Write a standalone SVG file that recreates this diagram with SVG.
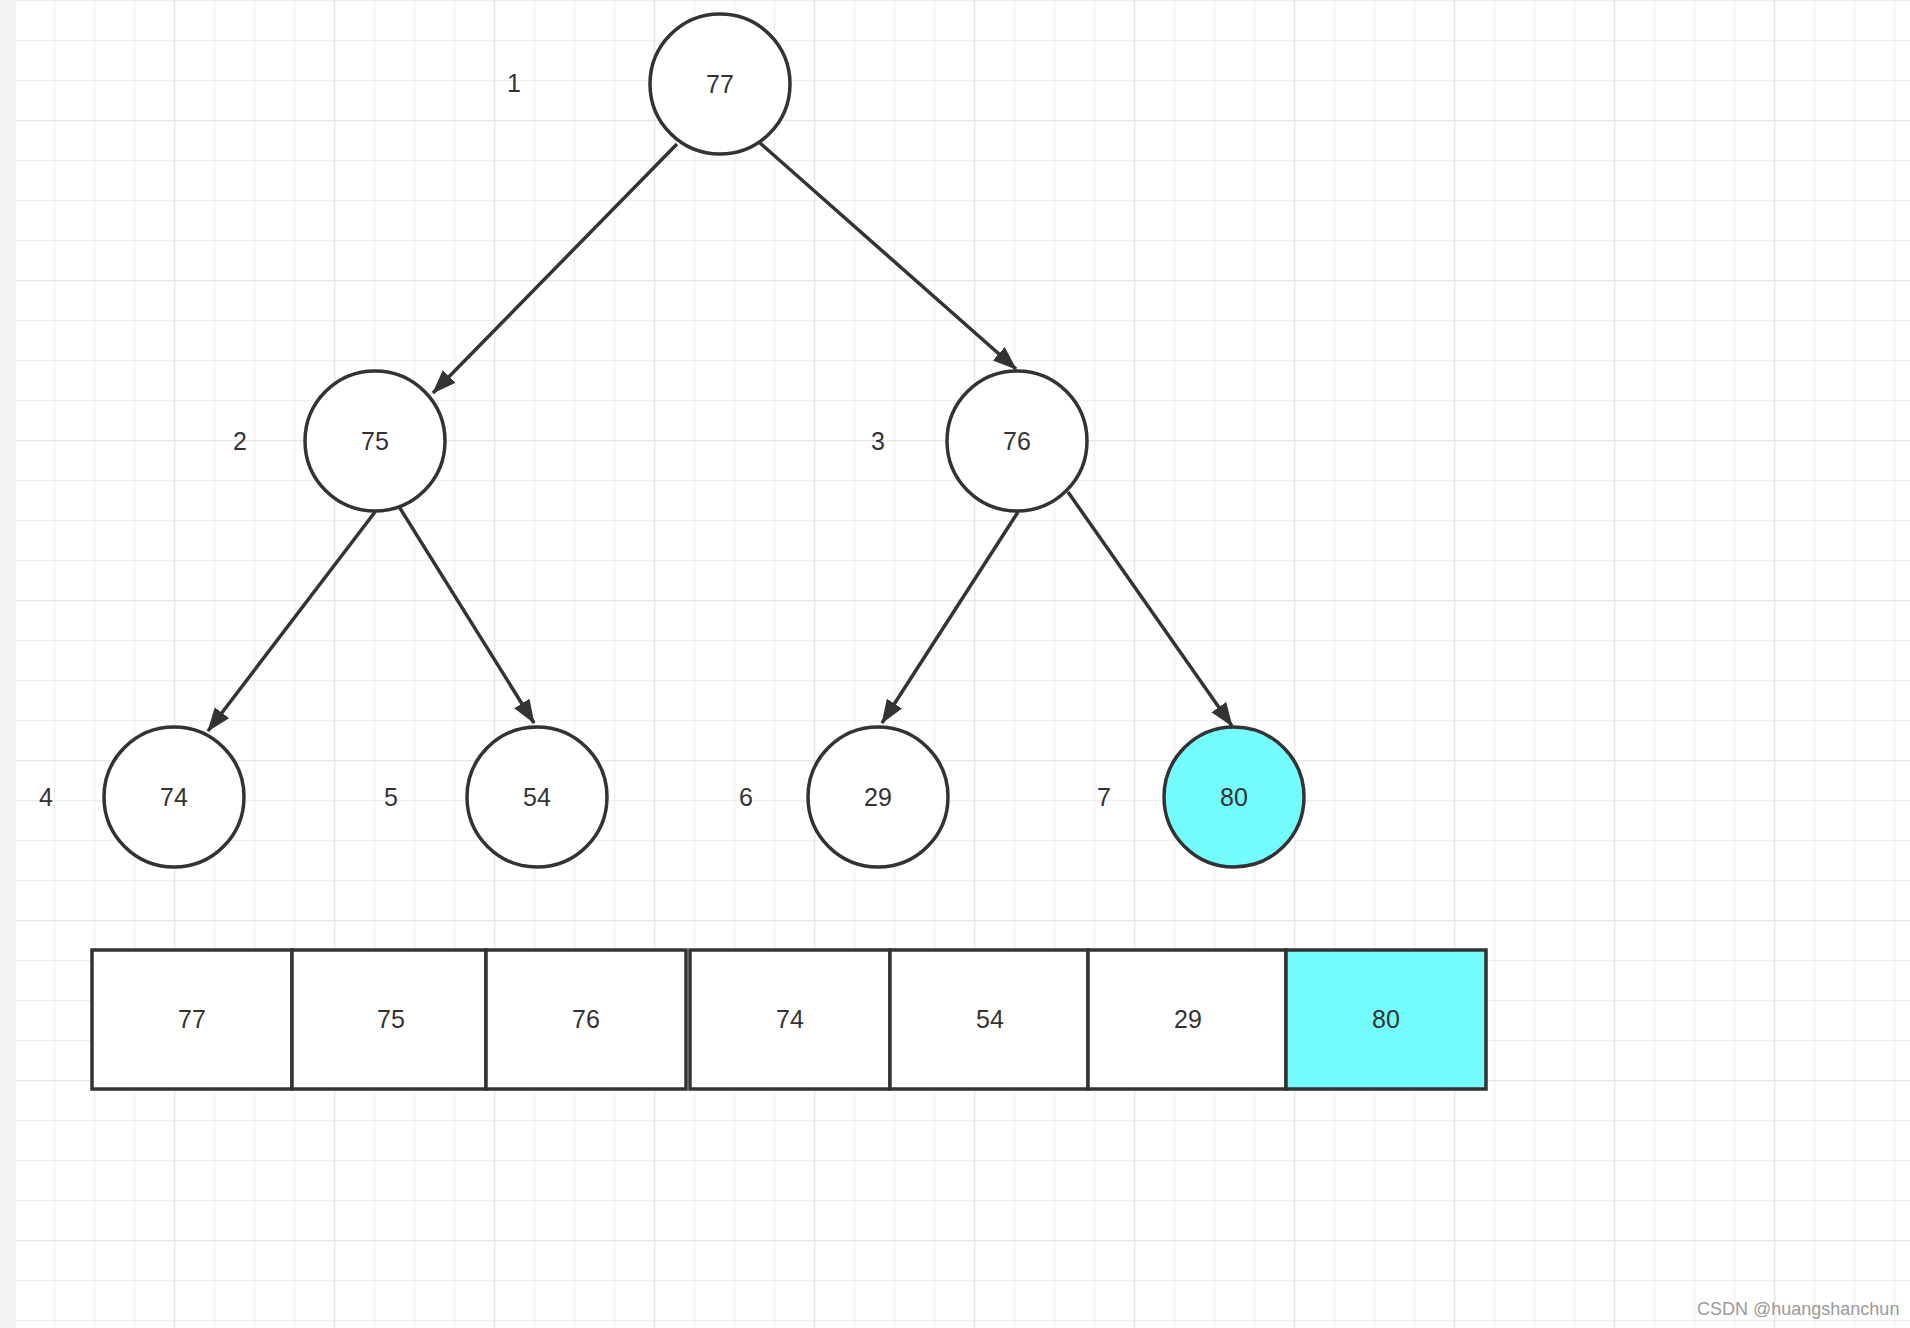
<svg xmlns="http://www.w3.org/2000/svg" width="1910" height="1328" viewBox="0 0 1910 1328">
  <style>
    .node circle { fill: #ffffff; stroke: #333333; stroke-width: 3.5; }
    .node rect { fill: #ffffff; stroke: #333333; stroke-width: 3.5; }
    .node.hl circle, .node.hl rect { fill: #74fcfc; }
    .lbl { font-family: "Liberation Sans", Arial, sans-serif; font-size: 25px; fill: #333333; text-anchor: middle; }
    .edge { stroke: #333333; stroke-width: 3.5; fill: none; marker-end: url(#arrow); }
    .wm { font-family: "Liberation Sans", Arial, sans-serif; font-size: 18px; fill: #9a9a9a; }
  </style>
  <defs>
    <pattern id="gMinor" patternUnits="userSpaceOnUse" x="14" y="0" width="40" height="40">
      <path d="M0 0 V40 M0 0 H40" stroke="#efefef" stroke-width="2.5" fill="none"/>
    </pattern>
    <pattern id="gMajor" patternUnits="userSpaceOnUse" x="174" y="120" width="160" height="160">
      <path d="M0 0 V160 M0 0 H160" stroke="#e6e6e6" stroke-width="2.5" fill="none"/>
    </pattern>
    <marker id="arrow" markerUnits="userSpaceOnUse" markerWidth="26" markerHeight="20" refX="23" refY="9" orient="auto">
      <path d="M0 0 L24 9 L0 18 Z" fill="#333333"/>
    </marker>
  </defs>
  <rect x="0" y="0" width="1910" height="1328" fill="#ffffff"/>
  <rect x="0" y="0" width="1910" height="1328" fill="url(#gMinor)"/>
  <rect x="0" y="0" width="1910" height="1328" fill="url(#gMajor)"/>
  <rect x="0" y="0" width="15" height="1328" fill="#f2f2f2"/>

  <g id="connectors">
    <line class="edge" x1="677" y1="144" x2="433" y2="393"/>
    <line class="edge" x1="760" y1="143" x2="1016" y2="369"/>
    <line class="edge" x1="375" y1="512" x2="208" y2="731"/>
    <line class="edge" x1="398" y1="505" x2="534" y2="723"/>
    <line class="edge" x1="1018" y1="512" x2="882" y2="723"/>
    <line class="edge" x1="1068" y1="492" x2="1232" y2="726"/>
  </g>

  <g id="node-77" class="node"><circle cx="720" cy="84" r="70"/><text class="lbl" x="720" y="93">77</text></g>
  <g id="node-75" class="node"><circle cx="375" cy="441" r="70"/><text class="lbl" x="375" y="450">75</text></g>
  <g id="node-76" class="node"><circle cx="1017" cy="441" r="70"/><text class="lbl" x="1017" y="450">76</text></g>
  <g id="node-74" class="node"><circle cx="174" cy="797" r="70"/><text class="lbl" x="174" y="806">74</text></g>
  <g id="node-54" class="node"><circle cx="537" cy="797" r="70"/><text class="lbl" x="537" y="806">54</text></g>
  <g id="node-29" class="node"><circle cx="878" cy="797" r="70"/><text class="lbl" x="878" y="806">29</text></g>
  <g id="node-80" class="node hl"><circle cx="1234" cy="797" r="70"/><text class="lbl" x="1234" y="806">80</text></g>

  <g id="index-labels">
    <text class="lbl" x="514" y="92">1</text>
    <text class="lbl" x="240" y="450">2</text>
    <text class="lbl" x="878" y="450">3</text>
    <text class="lbl" x="46" y="806">4</text>
    <text class="lbl" x="391" y="806">5</text>
    <text class="lbl" x="746" y="806">6</text>
    <text class="lbl" x="1104" y="806">7</text>
  </g>

  <g id="cell-0" class="node"><rect x="92" y="950" width="200" height="139"/><text class="lbl" x="192" y="1028">77</text></g>
  <g id="cell-1" class="node"><rect x="292" y="950" width="194" height="139"/><text class="lbl" x="391" y="1028">75</text></g>
  <g id="cell-2" class="node"><rect x="486" y="950" width="200" height="139"/><text class="lbl" x="586" y="1028">76</text></g>
  <g id="cell-3" class="node"><rect x="690" y="950" width="200" height="139"/><text class="lbl" x="790" y="1028">74</text></g>
  <g id="cell-4" class="node"><rect x="890" y="950" width="198" height="139"/><text class="lbl" x="990" y="1028">54</text></g>
  <g id="cell-5" class="node"><rect x="1088" y="950" width="198" height="139"/><text class="lbl" x="1188" y="1028">29</text></g>
  <g id="cell-6" class="node hl"><rect x="1286" y="950" width="200" height="139"/><text class="lbl" x="1386" y="1028">80</text></g>

  <text class="wm" x="1697" y="1315">CSDN @huangshanchun</text>
</svg>
